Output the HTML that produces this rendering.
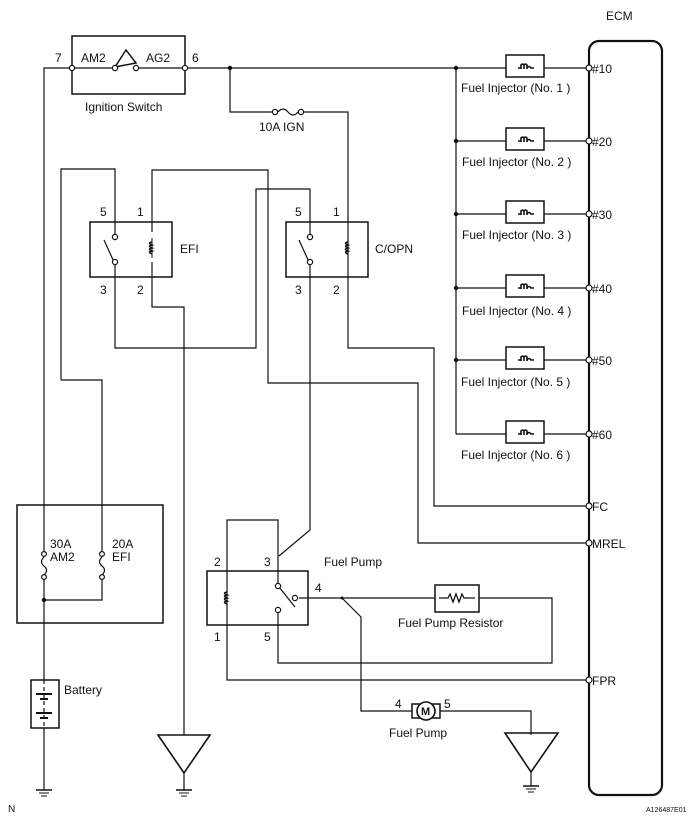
<!DOCTYPE html>
<html><head><meta charset="utf-8"><style>
html,body{margin:0;padding:0;background:#fff;}
svg{display:block;}
text{font-family:"Liberation Sans",Arial,sans-serif;font-size:12px;fill:#111;}
</style></head><body>
<svg width="693" height="822" viewBox="0 0 693 822" xmlns="http://www.w3.org/2000/svg">
<defs>
<g id="gnd"><line x1="-8" y1="0" x2="8" y2="0" stroke="#111" stroke-width="1.5"/><line x1="-5" y1="3" x2="5" y2="3" stroke="#111"/><line x1="-3" y1="6" x2="3" y2="6" stroke="#111"/></g>
<g id="inj"><rect x="0" y="-13" width="38" height="22" fill="#fff" stroke="#111" stroke-width="1.5"/><path d="M12,0 L15,0 M15,1 v-4 q2,-2 3,0 v4 M18,1 v-4 q2,-2 3,0 v4 M21,0 q2,-3 4,0 L28,0" fill="none" stroke="#111" stroke-width="1.6"/></g>
<g id="coil"><line x1="0" y1="-10" x2="0" y2="10" stroke="#111"/><path d="M0,-6 q-5,1 0,3 q-5,1 0,3 q-5,1 0,3 q-5,1 0,3" fill="none" stroke="#111" stroke-width="1.5"/></g>
</defs>
<g fill="none" stroke="#111" stroke-width="1.2">
<rect x="589" y="41" width="73" height="754" rx="10" stroke-width="2.2"/>
<polyline points="44,790 44,68 589,68"/>
<rect x="72" y="36" width="113" height="58" stroke-width="1.5"/>
<line x1="115" y1="68" x2="136" y2="68" stroke="#fff" stroke-width="3"/>
<path d="M115,67 L126,50 L136,63 Z" stroke-width="1.5" fill="#fff"/>
<polyline points="230,68 230,112 348,112 348,262"/>
<polyline points="61,380 61,169 115,169 115,262"/>
<polyline points="115,262 115,348 256,348 256,189 310,189 310,262"/>
<polyline points="152,232 152,170 268,170 268,383 418,383 418,543 589,543"/>
<polyline points="152,262 152,307 184,307 184,735"/>
<polyline points="348,262 348,348 434,348 434,506 589,506"/>
<polyline points="310,262 310,530 279,556"/>
<line x1="456" y1="68" x2="456" y2="434"/>
<line x1="456" y1="141" x2="589" y2="141"/>
<line x1="456" y1="214" x2="589" y2="214"/>
<line x1="456" y1="288" x2="589" y2="288"/>
<line x1="456" y1="360" x2="589" y2="360"/>
<line x1="456" y1="434" x2="589" y2="434"/>
<polyline points="61,380 102,380 102,600 44,600"/>
<rect x="17" y="505" width="146" height="118" stroke-width="1.5"/>
<polyline points="227,571 227,520 278,520 278,586"/>
<rect x="207" y="571" width="101" height="54" stroke-width="1.5"/>
<polyline points="227,571 227,680 589,680"/>
<polyline points="278,608 278,663 552,663 552,598 299,598"/>
<polyline points="342,598 361,617 361,711 412,711"/>
<polyline points="440,711 531,711 531,735"/>
<rect x="435" y="585" width="44" height="27" fill="#fff" stroke-width="1.5"/>
<path d="M439,598 L448,598 l2,-4 l3,8 l3,-8 l3,8 l3,-8 l2,4 L475,598" stroke-width="1.3"/>
<rect x="412" y="704" width="28" height="14" fill="#fff" stroke-width="1.5"/>
<circle cx="426" cy="711" r="9" fill="#fff" stroke-width="1.6"/>
<path d="M158,735 L210,735 L184,773 Z" stroke-width="1.6"/>
<line x1="184" y1="773" x2="184" y2="790"/>
<path d="M505,733 L558,733 L531,772 Z" stroke-width="1.6"/>
<line x1="531" y1="772" x2="531" y2="786"/>
<rect x="31" y="680" width="28" height="48" fill="#fff" stroke-width="1.5"/>
<line x1="44" y1="680" x2="44" y2="728" stroke-dasharray="4,3"/>
<rect x="90" y="222" width="82" height="55" stroke-width="1.5"/>
<rect x="286" y="222" width="82" height="55" stroke-width="1.5"/>
</g>
<g stroke="#111" fill="#fff" stroke-width="1.2">
<line x1="115" y1="237" x2="115" y2="262" stroke="#fff" stroke-width="3"/>
<line x1="104" y1="240" x2="114" y2="262"/>
<circle cx="115" cy="237" r="2.6"/><circle cx="115" cy="262" r="2.6"/>
<line x1="310" y1="237" x2="310" y2="262" stroke="#fff" stroke-width="3"/>
<line x1="299" y1="240" x2="309" y2="262"/>
<circle cx="310" cy="237" r="2.6"/><circle cx="310" cy="262" r="2.6"/>
<line x1="278" y1="586" x2="278" y2="610" stroke="#fff" stroke-width="3"/>
<line x1="279" y1="587" x2="295" y2="607"/>
<circle cx="278" cy="586" r="2.6"/><circle cx="278" cy="610" r="2.6"/><circle cx="295" cy="598" r="2.6"/>
<circle cx="72" cy="68" r="2.6"/><circle cx="185" cy="68" r="2.6"/>
<circle cx="115" cy="68" r="2.6"/><circle cx="136" cy="68" r="2.6"/>
<line x1="275" y1="112" x2="301" y2="112" stroke="#fff" stroke-width="3"/>
<path d="M278,112 q5,-6 10,0 q5,6 10,0" fill="none"/>
<circle cx="275" cy="112" r="2.6"/><circle cx="301" cy="112" r="2.6"/>
<line x1="44" y1="555" x2="44" y2="575" stroke="#fff" stroke-width="3"/>
<path d="M44,557 q-5,5 0,9 q5,4 0,9" fill="none"/>
<circle cx="44" cy="554" r="2.4"/><circle cx="44" cy="577" r="2.4"/>
<line x1="102" y1="555" x2="102" y2="575" stroke="#fff" stroke-width="3"/>
<path d="M102,557 q-5,5 0,9 q5,4 0,9" fill="none"/>
<circle cx="102" cy="554" r="2.4"/><circle cx="102" cy="577" r="2.4"/>
<circle cx="589" cy="68" r="3"/><circle cx="589" cy="141" r="3"/><circle cx="589" cy="214" r="3"/>
<circle cx="589" cy="288" r="3"/><circle cx="589" cy="360" r="3"/><circle cx="589" cy="434" r="3"/>
<circle cx="589" cy="506" r="3"/><circle cx="589" cy="543" r="3"/><circle cx="589" cy="680" r="3"/>
</g>
<g fill="#111">
<circle cx="230" cy="68" r="2.2"/><circle cx="456" cy="68" r="2.2"/><circle cx="456" cy="141" r="2.2"/>
<circle cx="456" cy="214" r="2.2"/><circle cx="456" cy="288" r="2.2"/><circle cx="456" cy="360" r="2.2"/>
<circle cx="44" cy="600" r="2.2"/><circle cx="342" cy="598" r="1.5"/>
</g>
<use href="#coil" x="152" y="248"/>
<use href="#coil" x="348" y="248"/>
<use href="#coil" x="227" y="598"/>
<use href="#inj" x="506" y="68"/><use href="#inj" x="506" y="141"/><use href="#inj" x="506" y="214"/>
<use href="#inj" x="506" y="288"/><use href="#inj" x="506" y="360"/><use href="#inj" x="506" y="434"/>
<g stroke="#111" stroke-width="2">
<line x1="36" y1="694" x2="52" y2="694"/><line x1="40" y1="699" x2="48" y2="699"/>
<line x1="36" y1="713" x2="52" y2="713"/><line x1="40" y1="718" x2="48" y2="718"/>
</g>
<use href="#gnd" x="44" y="790"/><use href="#gnd" x="184" y="790"/><use href="#gnd" x="531" y="786"/>
<text x="55" y="62">7</text><text x="81" y="62">AM2</text><text x="146" y="62">AG2</text><text x="192" y="62">6</text>
<text x="85" y="111">Ignition Switch</text>
<text x="259" y="131">10A IGN</text>
<text x="100" y="216">5</text><text x="137" y="216">1</text><text x="100" y="294">3</text><text x="137" y="294">2</text>
<text x="180" y="253">EFI</text>
<text x="295" y="216">5</text><text x="333" y="216">1</text><text x="295" y="294">3</text><text x="333" y="294">2</text>
<text x="375" y="253">C/OPN</text>
<text x="606" y="20">ECM</text>
<text x="592" y="73">#10</text><text x="592" y="146">#20</text><text x="592" y="219">#30</text>
<text x="592" y="293">#40</text><text x="592" y="365">#50</text><text x="592" y="439">#60</text>
<text x="592" y="511">FC</text><text x="592" y="548">MREL</text><text x="592" y="685">FPR</text>
<text x="461" y="92">Fuel Injector (No. 1 )</text>
<text x="462" y="166">Fuel Injector (No. 2 )</text>
<text x="462" y="239">Fuel Injector (No. 3 )</text>
<text x="462" y="315">Fuel Injector (No. 4 )</text>
<text x="461" y="386">Fuel Injector (No. 5 )</text>
<text x="461" y="459">Fuel Injector (No. 6 )</text>
<text x="50" y="548">30A</text><text x="50" y="561">AM2</text>
<text x="112" y="548">20A</text><text x="112" y="561">EFI</text>
<text x="64" y="694">Battery</text>
<text x="214" y="566">2</text><text x="264" y="566">3</text><text x="315" y="592">4</text>
<text x="214" y="641">1</text><text x="264" y="641">5</text>
<text x="324" y="566">Fuel Pump</text>
<text x="398" y="627">Fuel Pump Resistor</text>
<text x="395" y="708">4</text><text x="444" y="708">5</text>
<text x="389" y="737">Fuel Pump</text>
<text x="421" y="715" style="font-size:11px;font-weight:bold">M</text>
<text x="8" y="812" style="font-size:10px">N</text>
<text x="646" y="812" style="font-size:7px">A126487E01</text>
</svg>
</body></html>
